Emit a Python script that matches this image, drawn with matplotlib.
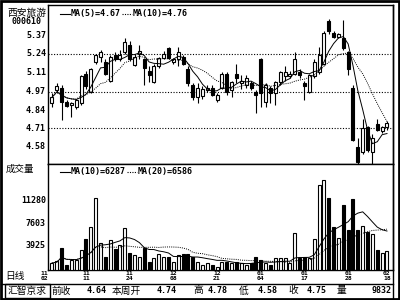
import numpy as np
import pandas as pd
import matplotlib
matplotlib.use('Agg')
from matplotlib import pyplot as plt
from matplotlib.patches import Rectangle
from matplotlib.lines import Line2D
from matplotlib.transforms import blended_transform_factory

# daily candles, 70 sessions
opens = [4.89, 4.98, 5.00, 4.90, 4.88, 4.86, 4.89, 5.10, 4.97, 5.18,
         5.22, 5.18, 5.05, 5.23, 5.20, 5.25, 5.30, 5.16, 5.24, 5.20,
         5.12, 5.04, 5.15, 5.21, 5.28, 5.18, 5.20, 5.22, 5.13, 5.02,
         4.93, 4.94, 4.98, 5.00, 4.91, 5.00, 5.10, 4.98, 5.10, 5.03,
         5.02, 5.03, 4.97, 5.20, 4.90, 5.00, 4.96, 5.04, 5.08, 5.08,
         5.10, 5.11, 5.03, 4.97, 5.08, 5.11, 5.17, 5.47, 5.39, 5.36,
         5.35, 5.25, 5.00, 4.58, 4.54, 4.72, 4.54, 4.74, 4.69, 4.72]
highs = [4.96, 5.03, 5.02, 4.91, 4.90, 4.92, 5.09, 5.12, 5.14, 5.24,
         5.27, 5.20, 5.23, 5.25, 5.27, 5.35, 5.33, 5.24, 5.30, 5.21,
         5.15, 5.17, 5.22, 5.26, 5.29, 5.21, 5.29, 5.23, 5.15, 5.03,
         5.03, 5.01, 5.02, 5.02, 4.96, 5.11, 5.11, 5.05, 5.17, 5.09,
         5.09, 5.05, 4.98, 5.21, 5.03, 5.01, 5.05, 5.12, 5.15, 5.12,
         5.25, 5.13, 5.05, 5.10, 5.20, 5.29, 5.40, 5.49, 5.40, 5.39,
         5.48, 5.26, 5.02, 4.64, 4.78, 4.73, 4.67, 4.78, 4.73, 4.76]
lows = [4.86, 4.96, 4.77, 4.86, 4.79, 4.85, 4.88, 4.99, 4.96, 5.17,
        5.18, 5.09, 5.04, 5.19, 5.19, 5.24, 5.19, 5.15, 5.20, 5.02,
        5.04, 5.03, 5.14, 5.20, 5.20, 5.17, 5.15, 5.16, 5.01, 4.91,
        4.89, 4.92, 4.97, 4.94, 4.90, 4.99, 4.95, 4.93, 5.03, 4.99,
        5.00, 4.98, 4.82, 4.86, 4.86, 4.89, 4.88, 5.02, 5.05, 5.07,
        5.09, 5.07, 4.91, 4.96, 5.07, 5.10, 5.16, 5.38, 5.35, 5.35,
        5.27, 5.09, 4.62, 4.45, 4.53, 4.54, 4.45, 4.69, 4.68, 4.70]
closes = [4.93, 5.01, 4.90, 4.87, 4.89, 4.91, 5.08, 5.01, 5.13, 5.23,
          5.25, 5.10, 5.22, 5.20, 5.23, 5.32, 5.20, 5.22, 5.26, 5.14,
          5.09, 5.15, 5.21, 5.24, 5.21, 5.20, 5.25, 5.17, 5.03, 4.93,
          5.00, 4.99, 5.00, 4.95, 4.95, 5.10, 4.97, 5.04, 5.07, 5.05,
          5.07, 5.00, 4.95, 4.96, 5.02, 4.96, 5.04, 5.11, 5.11, 5.10,
          5.20, 5.09, 5.01, 5.09, 5.18, 5.23, 5.39, 5.40, 5.36, 5.38,
          5.28, 5.13, 4.63, 4.47, 4.71, 4.56, 4.64, 4.70, 4.72, 4.75]
volumes = [1050, 1400, 3500, 700, 1550, 1500, 3200, 5000, 7000, 11700,
           4300, 2000, 4800, 3300, 4000, 6800, 2700, 2400, 2000, 3500,
           1200, 1900, 2500, 2000, 2000, 1200, 2400, 2600, 2600, 2000,
           1200, 740, 1000, 740, 460, 1280, 1280, 1100, 1280, 1000,
           740, 1000, 2100, 1550, 1000, 740, 1800, 1800, 1800, 1000,
           6000, 1900, 2000, 1900, 5000, 13800, 14600, 11700, 7000, 5100,
           10500, 6500, 11500, 6500, 7100, 6100, 5800, 3200, 2700, 3000]

price_ticks = [5.37, 5.24, 5.11, 4.97, 4.84, 4.71, 4.58]
price_grid = [5.24, 4.97, 4.71]
vol_ticks = [11280, 7603, 3925]
date_idx = [0, 7, 16, 25, 34, 43, 52, 61, 69]
date_month = ['11', '11', '11', '12', '12', '01', '01', '01', '02']
date_day = ['02', '11', '24', '08', '21', '04', '17', '28', '18']

info_names = ['前收', '本周开', '高', '低', '收', '量']
info_values = ['4.64', '4.74', '4.78', '4.58', '4.75', '9832']

MONO = 'DejaVu Sans Mono'
CJK = ['Noto Sans CJK SC', 'DejaVu Sans']


def fx(x):
    return x / 400.0


def fy(y):
    return 1 - y / 300.0


fig = plt.figure(figsize=(4, 3), dpi=100)
fig.patch.set_facecolor('white')

ax_p = fig.add_axes([fx(48), fy(164), 345 / 400.0, 159 / 300.0])
ax_v = fig.add_axes([fx(48), fy(269.5), 345 / 400.0, 105.5 / 300.0])

o = np.array(opens)
h = np.array(highs)
l = np.array(lows)
c = np.array(closes)
v = np.array(volumes)
x = np.arange(len(c))
up = c >= o

# price panel
for g in price_grid:
    ax_p.axhline(g, color='black', lw=0.8, ls=(0, (1, 1.5)), zorder=1)
ax_p.vlines(x, l, h, color='black', lw=0.8, zorder=2)
ax_p.bar(x, np.abs(c - o), bottom=np.minimum(o, c), width=0.62,
         color=np.where(up, 'white', 'black'), edgecolor='black', linewidth=0.8, zorder=3)
ma5 = pd.Series(c).rolling(5, min_periods=1).mean()
ma10 = pd.Series(c).rolling(10, min_periods=1).mean()
ax_p.plot(x, ma5, color='black', lw=0.7, zorder=4)
ax_p.plot(x, ma10, color='black', lw=0.7, ls=(0, (1, 1.2)), zorder=4)
ax_p.set_xlim(-0.82, 70.24)
ax_p.set_ylim(4.458, 5.586)

# volume panel
ax_v.bar(x, v, width=0.62, color=np.where(up, 'white', 'black'),
         edgecolor='black', linewidth=0.8, zorder=3)
vma10 = pd.Series(v).rolling(10, min_periods=1).mean()
vma20 = pd.Series(v).rolling(20, min_periods=1).mean()
ax_v.plot(x, vma10, color='black', lw=0.7, zorder=4)
ax_v.plot(x, vma20, color='black', lw=0.7, ls=(0, (1, 1.2)), zorder=4)
ax_v.set_xlim(-0.82, 70.24)
ax_v.set_ylim(0, 17250)

for ax in (ax_p, ax_v):
    ax.set_xticks([])
    ax.set_yticks([])
    for s in ax.spines.values():
        s.set_color('black')
        s.set_linewidth(1.0)

# tick labels on the left
tp = blended_transform_factory(fig.transFigure, ax_p.transData)
for t in price_ticks:
    fig.text(fx(46), t, '%.2f' % t, transform=tp, ha='right', va='center',
             fontsize=6, family=MONO, weight='bold')
tv = blended_transform_factory(fig.transFigure, ax_v.transData)
for t in vol_ticks:
    fig.text(fx(46), t, str(t), transform=tv, ha='right', va='center',
             fontsize=6, family=MONO, weight='bold')

# dates under volume panel, month above day
td = blended_transform_factory(ax_v.transData, fig.transFigure)
for i, mo, dy in zip(date_idx, date_month, date_day):
    xi = i if i > 0 else -1.6
    fig.text(xi, fy(273.4), mo, transform=td, ha='center', va='center',
             fontsize=4.6, family=MONO, weight='bold')
    fig.text(xi, fy(278.8), dy, transform=td, ha='center', va='center',
             fontsize=4.6, family=MONO, weight='bold')


def legend(y, items):
    for x0, style, label in items:
        fig.add_artist(Line2D([fx(x0), fx(x0 + 10)], [fy(y), fy(y)], color='black',
                              lw=0.8, ls=style, transform=fig.transFigure))
        fig.text(fx(x0 + 11), fy(y), label, ha='left', va='center',
                 fontsize=6, family=MONO, weight='bold')


legend(13.5, [(60, '-', 'MA(5)=4.67'), (122, (0, (1, 1.2)), 'MA(10)=4.76')])
legend(171.5, [(60, '-', 'MA(10)=6287'), (127, (0, (1, 1.2)), 'MA(20)=6586')])

# left labels
fig.text(fx(27), fy(12.5), '西安旅游', ha='center', va='center', fontsize=7, family=CJK)
fig.text(fx(26), fy(21.5), '000610', ha='center', va='center', fontsize=6,
         family=MONO, weight='bold')
fig.text(fx(6), fy(169.5), '成交量', ha='left', va='center', fontsize=6.8, family=CJK)
fig.text(fx(5), fy(276), '日线', ha='left', va='center', fontsize=7, family=CJK)

# info bar
fig.add_artist(Line2D([fx(1), fx(393)], [fy(283.5), fy(283.5)], color='black', lw=1,
                      transform=fig.transFigure))
fig.add_artist(Rectangle((fx(5), fy(297.5)), 45 / 400.0, 14 / 300.0, fill=False,
                         edgecolor='black', lw=1, transform=fig.transFigure))
fig.text(fx(27.5), fy(290.5), '汇智京求', ha='center', va='center', fontsize=7, family=CJK)
name_x = [52, 112, 193, 239, 288, 337]
value_x = [107, 177, 228, 278, 327, 392]
for nx, vx, name, val in zip(name_x, value_x, info_names, info_values):
    fig.text(fx(nx), fy(290.5), name, ha='left', va='center', fontsize=7, family=CJK)
    fig.text(fx(vx), fy(290.5), val, ha='right', va='center', fontsize=6,
             family=MONO, weight='bold')

# frame
fig.add_artist(Rectangle((fx(1), fy(299)), 398 / 400.0, 298 / 300.0, fill=False,
                         edgecolor='black', lw=2, transform=fig.transFigure))
fig.add_artist(Line2D([fx(393), fx(393)], [fy(5), fy(299)], color='black', lw=1,
                      transform=fig.transFigure))

fig.savefig('out.png', dpi=100)
